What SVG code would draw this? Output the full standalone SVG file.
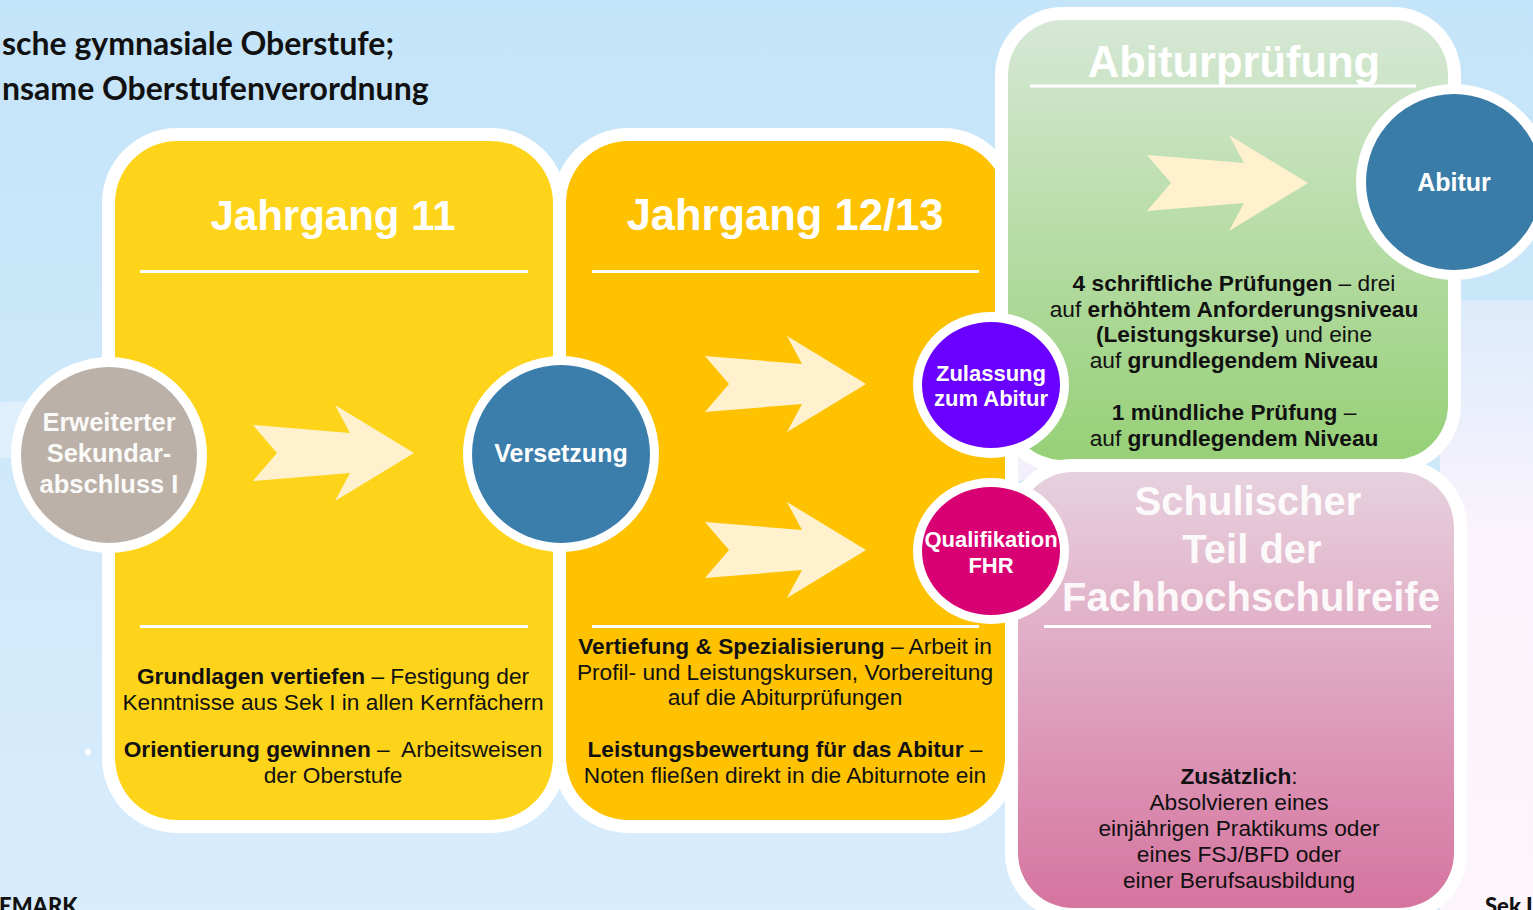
<svg xmlns="http://www.w3.org/2000/svg" width="1533" height="910" viewBox="0 0 1533 910">
<defs>
<linearGradient id="bg" x1="0" y1="0" x2="0" y2="1">
<stop offset="0" stop-color="#c4e4f9"/>
<stop offset="0.45" stop-color="#cde8fa"/>
<stop offset="1" stop-color="#d9ecfc"/>
</linearGradient>
<linearGradient id="gGreen" x1="0" y1="0" x2="0" y2="1">
<stop offset="0" stop-color="#d6e8d5"/>
<stop offset="1" stop-color="#97d077"/>
</linearGradient>
<linearGradient id="gPink" x1="0" y1="0" x2="0" y2="1">
<stop offset="0" stop-color="#e7d1de"/>
<stop offset="1" stop-color="#d6749f"/>
</linearGradient>
<linearGradient id="gRight" x1="0" y1="0" x2="0" y2="1">
<stop offset="0" stop-color="#dcebfb"/>
<stop offset="0.4" stop-color="#fcf4fc"/>
<stop offset="1" stop-color="#fdf5fc"/>
</linearGradient>
<path id="arrow" d="M-161,-28 L-64,-20 L-79,-48 L0,0 L-79,48 L-64,20 L-161,28 L-137,0 Z"/>
<style>
.title{font-family:Lato,"Open Sans","Liberation Sans",sans-serif;font-weight:700;font-size:32px;fill:#111}
.foot{font-family:Lato,"Liberation Sans",sans-serif;font-weight:900;font-size:22px;fill:#111}
.head{font-family:"Liberation Sans",Arial,sans-serif;font-weight:700;font-size:42px;fill:#fff;text-anchor:middle}
.head2{font-family:"Liberation Sans",Arial,sans-serif;font-weight:700;font-size:40px;fill:#fff;fill-opacity:0.92;text-anchor:middle}
.body{font-family:"Liberation Sans",Arial,sans-serif;font-size:22.7px;fill:#111;text-anchor:middle}
.b{font-weight:700}
.ctext{font-family:"Liberation Sans",Arial,sans-serif;font-weight:700;fill:#fff;text-anchor:middle}
.rule{stroke:#fff;stroke-width:3}
.arr{fill:#fff1cd}
</style>
</defs>

<g id="background">
<rect width="1533" height="910" fill="url(#bg)"/>
<rect x="1440" y="300" width="93" height="610" fill="url(#gRight)"/>
<ellipse cx="60" cy="430" rx="150" ry="30" fill="#e3f1fd" opacity="0.8"/>
<polygon points="1018,453 1045,467 1018,482" fill="#f3f0fb"/>
</g>

<g id="title">
<text class="title" x="2" y="55">sche gymnasiale Oberstufe;</text>
<text class="title" x="2" y="100">nsame Oberstufenverordnung</text>
<text class="foot" x="-1" y="914">EMARK</text>
<text class="foot" x="1485" y="914">Sek I</text>
</g>

<g id="panel-jahrgang11">
<rect x="102" y="128" width="464" height="705" rx="75" fill="#fff"/>
<rect x="115" y="141" width="438" height="679" rx="62" fill="#fed41a"/>
<text class="head" x="333" y="230">Jahrgang 11</text>
<line class="rule" x1="140" y1="271.5" x2="528" y2="271.5"/>
<line class="rule" x1="140" y1="626.5" x2="528" y2="626.5"/>
<text class="body" x="333" y="684"><tspan class="b">Grundlagen vertiefen</tspan> – Festigung der</text>
<text class="body" x="333" y="710">Kenntnisse aus Sek I in allen Kernfächern</text>
<text class="body" x="333" y="757" xml:space="preserve"><tspan class="b">Orientierung gewinnen</tspan> –  Arbeitsweisen</text>
<text class="body" x="333" y="783">der Oberstufe</text>
<circle cx="88" cy="752" r="3" fill="#fff"/>
</g>

<g id="panel-jahrgang1213">
<rect x="553" y="128" width="465" height="705" rx="75" fill="#fff"/>
<rect x="566" y="141" width="439" height="679" rx="62" fill="#fec200"/>
<text class="head" x="785" y="230" style="font-size:43.5px">Jahrgang 12/13</text>
<line class="rule" x1="592" y1="271.5" x2="979" y2="271.5"/>
<line class="rule" x1="592" y1="626.5" x2="979" y2="626.5"/>
<text class="body" x="785" y="654"><tspan class="b">Vertiefung &amp; Spezialisierung</tspan> – Arbeit in</text>
<text class="body" x="785" y="680">Profil- und Leistungskursen, Vorbereitung</text>
<text class="body" x="785" y="705">auf die Abiturprüfungen</text>
<text class="body" x="785" y="757"><tspan class="b">Leistungsbewertung für das Abitur</tspan> –</text>
<text class="body" x="785" y="783">Noten fließen direkt in die Abiturnote ein</text>
</g>

<g id="panel-abiturpruefung">
<rect x="995" y="7" width="466" height="466" rx="68" fill="#fff"/>
<rect x="1008" y="20" width="440" height="440" rx="55" fill="url(#gGreen)"/>
<text class="head" x="1234" y="77" style="font-size:43.5px">Abiturprüfung</text>
<line class="rule" x1="1030" y1="86" x2="1416" y2="86"/>
<text class="body" x="1234" y="291"><tspan class="b">4 schriftliche Prüfungen</tspan> – drei</text>
<text class="body" x="1234" y="317">auf <tspan class="b">erhöhtem Anforderungsniveau</tspan></text>
<text class="body" x="1234" y="342"><tspan class="b">(Leistungskurse)</tspan> und eine</text>
<text class="body" x="1234" y="368">auf <tspan class="b">grundlegendem Niveau</tspan></text>
<text class="body" x="1234" y="420"><tspan class="b">1 mündliche Prüfung</tspan> –</text>
<text class="body" x="1234" y="446">auf <tspan class="b">grundlegendem Niveau</tspan></text>
</g>

<g id="panel-fachhochschulreife">
<rect x="1005" y="459" width="462" height="462" rx="68" fill="#fff"/>
<rect x="1018" y="472" width="436" height="436" rx="55" fill="url(#gPink)"/>
<text class="head2" x="1248" y="515">Schulischer</text>
<text class="head2" x="1252" y="563">Teil der</text>
<text class="head2" x="1251" y="611">Fachhochschulreife</text>
<line class="rule" x1="1044" y1="626.5" x2="1431" y2="626.5"/>
<text class="body" x="1239" y="784"><tspan class="b">Zusätzlich</tspan>:</text>
<text class="body" x="1239" y="810">Absolvieren eines</text>
<text class="body" x="1239" y="836">einjährigen Praktikums oder</text>
<text class="body" x="1239" y="862">eines FSJ/BFD oder</text>
<text class="body" x="1239" y="888">einer Berufsausbildung</text>
</g>

<g id="connectors">
<use href="#arrow" class="arr" transform="translate(414,453)"/>
<use href="#arrow" class="arr" transform="translate(866,384)"/>
<use href="#arrow" class="arr" transform="translate(866,550)"/>
<use href="#arrow" class="arr" transform="translate(1308,183)"/>
</g>

<g id="node-sekundarabschluss">
<circle cx="109" cy="455" r="98" fill="#fff"/>
<circle cx="109" cy="455" r="88" fill="#bcb1a8"/>
<text class="ctext" x="109" y="431" font-size="25.5" fill-opacity="0.95">Erweiterter</text>
<text class="ctext" x="109" y="462" font-size="25.5" fill-opacity="0.95">Sekundar-</text>
<text class="ctext" x="109" y="493" font-size="25.5" fill-opacity="0.95">abschluss I</text>
</g>

<g id="node-versetzung">
<circle cx="561" cy="454" r="98" fill="#fff"/>
<circle cx="561" cy="454" r="89" fill="#3b7dab"/>
<text class="ctext" x="561" y="462" font-size="25">Versetzung</text>
</g>

<g id="node-zulassung">
<ellipse cx="991" cy="385" rx="78" ry="73" fill="#fff"/>
<ellipse cx="991" cy="385" rx="69" ry="63" fill="#6a00ff"/>
<text class="ctext" x="991" y="381" font-size="22">Zulassung</text>
<text class="ctext" x="991" y="406" font-size="22">zum Abitur</text>
</g>

<g id="node-qualifikation">
<ellipse cx="991" cy="551" rx="78" ry="73" fill="#fff"/>
<ellipse cx="991" cy="551" rx="69" ry="64" fill="#d80073"/>
<text class="ctext" x="991" y="547" font-size="22">Qualifikation</text>
<text class="ctext" x="991" y="573" font-size="22">FHR</text>
</g>

<g id="node-abitur">
<circle cx="1454" cy="182" r="98" fill="#fff"/>
<circle cx="1454" cy="182" r="88" fill="#3a7ca8"/>
<text class="ctext" x="1454" y="191" font-size="25">Abitur</text>
</g>
</svg>
